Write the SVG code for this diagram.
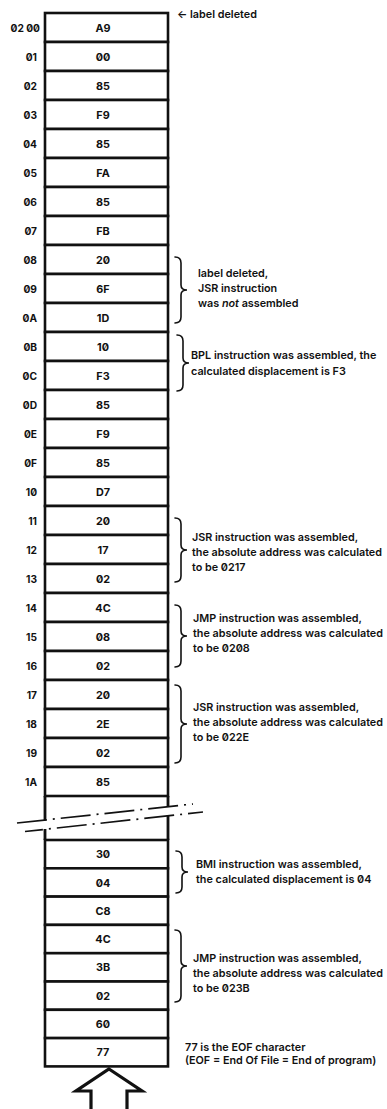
<svg xmlns="http://www.w3.org/2000/svg" width="387" height="1109" viewBox="0 0 387 1109">
<style>
text{font-family:Inter,"Liberation Sans",sans-serif;font-feature-settings:"zero" 1;fill:#111}
.v{font-size:10.8px;font-weight:700;text-anchor:middle}
.a{font-size:10.2px;font-weight:700;text-anchor:end}
.n{font-size:10.8px;font-weight:600}
.cell{fill:#fff;stroke:#111;stroke-width:2.6}
.wall{stroke:#111;stroke-width:2.8;fill:none}
.brace{fill:none;stroke:#111;stroke-width:1.6;stroke-linecap:round}
.brk{fill:none;stroke:#111;stroke-width:1.7;stroke-dasharray:30 6 2 6}
</style>
<g id="cells">
<g id="c00"><rect class="cell" x="45" y="13" width="123" height="29"/><text class="a" x="40" y="31.5">02 00</text><text class="v" x="103" y="31.5">A9</text></g>
<g id="c01"><rect class="cell" x="45" y="42" width="123" height="29"/><text class="a" x="37" y="60.5">01</text><text class="v" x="103" y="60.5">00</text></g>
<g id="c02"><rect class="cell" x="45" y="71" width="123" height="29"/><text class="a" x="37" y="89.5">02</text><text class="v" x="103" y="89.5">85</text></g>
<g id="c03"><rect class="cell" x="45" y="100" width="123" height="29"/><text class="a" x="37" y="118.5">03</text><text class="v" x="103" y="118.5">F9</text></g>
<g id="c04"><rect class="cell" x="45" y="129" width="123" height="29"/><text class="a" x="37" y="147.5">04</text><text class="v" x="103" y="147.5">85</text></g>
<g id="c05"><rect class="cell" x="45" y="158" width="123" height="29"/><text class="a" x="37" y="176.5">05</text><text class="v" x="103" y="176.5">FA</text></g>
<g id="c06"><rect class="cell" x="45" y="187" width="123" height="29"/><text class="a" x="37" y="205.5">06</text><text class="v" x="103" y="205.5">85</text></g>
<g id="c07"><rect class="cell" x="45" y="216" width="123" height="29"/><text class="a" x="37" y="234.5">07</text><text class="v" x="103" y="234.5">FB</text></g>
<g id="c08"><rect class="cell" x="45" y="245" width="123" height="29"/><text class="a" x="37" y="263.5">08</text><text class="v" x="103" y="263.5">20</text></g>
<g id="c09"><rect class="cell" x="45" y="274" width="123" height="29"/><text class="a" x="37" y="292.5">09</text><text class="v" x="103" y="292.5">6F</text></g>
<g id="c0A"><rect class="cell" x="45" y="303" width="123" height="29"/><text class="a" x="37" y="321.5">0A</text><text class="v" x="103" y="321.5">1D</text></g>
<g id="c0B"><rect class="cell" x="45" y="332" width="123" height="29"/><text class="a" x="37" y="350.5">0B</text><text class="v" x="103" y="350.5">10</text></g>
<g id="c0C"><rect class="cell" x="45" y="361" width="123" height="29"/><text class="a" x="37" y="379.5">0C</text><text class="v" x="103" y="379.5">F3</text></g>
<g id="c0D"><rect class="cell" x="45" y="390" width="123" height="29"/><text class="a" x="37" y="408.5">0D</text><text class="v" x="103" y="408.5">85</text></g>
<g id="c0E"><rect class="cell" x="45" y="419" width="123" height="29"/><text class="a" x="37" y="437.5">0E</text><text class="v" x="103" y="437.5">F9</text></g>
<g id="c0F"><rect class="cell" x="45" y="448" width="123" height="29"/><text class="a" x="37" y="466.5">0F</text><text class="v" x="103" y="466.5">85</text></g>
<g id="c10"><rect class="cell" x="45" y="477" width="123" height="29"/><text class="a" x="37" y="495.5">10</text><text class="v" x="103" y="495.5">D7</text></g>
<g id="c11"><rect class="cell" x="45" y="506" width="123" height="29"/><text class="a" x="37" y="524.5">11</text><text class="v" x="103" y="524.5">20</text></g>
<g id="c12"><rect class="cell" x="45" y="535" width="123" height="29"/><text class="a" x="37" y="553.5">12</text><text class="v" x="103" y="553.5">17</text></g>
<g id="c13"><rect class="cell" x="45" y="564" width="123" height="29"/><text class="a" x="37" y="582.5">13</text><text class="v" x="103" y="582.5">02</text></g>
<g id="c14"><rect class="cell" x="45" y="593" width="123" height="29"/><text class="a" x="37" y="611.5">14</text><text class="v" x="103" y="611.5">4C</text></g>
<g id="c15"><rect class="cell" x="45" y="622" width="123" height="29"/><text class="a" x="37" y="640.5">15</text><text class="v" x="103" y="640.5">08</text></g>
<g id="c16"><rect class="cell" x="45" y="651" width="123" height="29"/><text class="a" x="37" y="669.5">16</text><text class="v" x="103" y="669.5">02</text></g>
<g id="c17"><rect class="cell" x="45" y="680" width="123" height="29"/><text class="a" x="37" y="698.5">17</text><text class="v" x="103" y="698.5">20</text></g>
<g id="c18"><rect class="cell" x="45" y="709" width="123" height="29"/><text class="a" x="37" y="727.5">18</text><text class="v" x="103" y="727.5">2E</text></g>
<g id="c19"><rect class="cell" x="45" y="738" width="123" height="29"/><text class="a" x="37" y="756.5">19</text><text class="v" x="103" y="756.5">02</text></g>
<g id="c1A"><rect class="cell" x="45" y="767" width="123" height="29"/><text class="a" x="37" y="785.5">1A</text><text class="v" x="103" y="785.5">85</text></g>
<g id="cbreak">
<path class="wall" d="M45,796 V820.5 M45,829 V840 M168,796 V807 M168,815.5 V840"/>
<path class="brk" d="M17,823 L193,804"/>
<path class="brk" d="M25,831.5 L203,812" style="stroke-dashoffset:12"/>
</g>
<g id="d0"><rect class="cell" x="45" y="840" width="123" height="28.3"/><text class="v" x="103" y="858.2">30</text></g>
<g id="d1"><rect class="cell" x="45" y="868.3" width="123" height="28.3"/><text class="v" x="103" y="886.5">04</text></g>
<g id="d2"><rect class="cell" x="45" y="896.6" width="123" height="28.3"/><text class="v" x="103" y="914.8">C8</text></g>
<g id="d3"><rect class="cell" x="45" y="924.9" width="123" height="28.3"/><text class="v" x="103" y="943.1">4C</text></g>
<g id="d4"><rect class="cell" x="45" y="953.2" width="123" height="28.3"/><text class="v" x="103" y="971.4">3B</text></g>
<g id="d5"><rect class="cell" x="45" y="981.5" width="123" height="28.3"/><text class="v" x="103" y="999.7">02</text></g>
<g id="d6"><rect class="cell" x="45" y="1009.8" width="123" height="28.3"/><text class="v" x="103" y="1028">60</text></g>
<g id="d7"><rect class="cell" x="45" y="1038.1" width="123" height="28.3"/><text class="v" x="103" y="1056.3">77</text></g>
</g>
<g id="connectors">
<path class="brace" d="M175,257 Q181,257 181,263 V285 Q181,290 187,290 Q181,290 181,295 V317 Q181,323 175,323"/>
<path class="brace" d="M177,335 Q183,335 183,341 V358 Q183,363 189,363 Q183,363 183,368 V385 Q183,391 177,391"/>
<path class="brace" d="M175,518 Q181,518 181,524 V545 Q181,550 187,550 Q181,550 181,555 V576 Q181,582 175,582"/>
<path class="brace" d="M175,605 Q181,605 181,611 V631 Q181,636 187,636 Q181,636 181,641 V661 Q181,667 175,667"/>
<path class="brace" d="M175,685 Q181,685 181,691 V719 Q181,724 187,724 Q181,724 181,729 V757 Q181,763 175,763"/>
<path class="brace" d="M176,851 Q182,851 182,857 V867 Q182,872 188,872 Q182,872 182,877 V887 Q182,893 176,893"/>
<path class="brace" d="M175,930 Q181,930 181,936 V961 Q181,966 187,966 Q181,966 181,971 V996 Q181,1002 175,1002"/>
<path d="M109,1069 L142,1091 L127,1091 L127,1112 L91,1112 L91,1091 L76,1091 Z" fill="#fff" stroke="#111" stroke-width="3.2" stroke-linejoin="miter"/>
</g>
<g id="notes">
<text class="n" x="177" y="18">← label deleted</text>
<text class="n" x="198" y="277">label deleted,</text>
<text class="n" x="198" y="292">JSR instruction</text>
<text class="n" x="198" y="307">was <tspan font-style="italic">not</tspan> assembled</text>
<text class="n" x="191" y="359">BPL instruction was assembled, the</text>
<text class="n" x="191" y="375">calculated displacement is F3</text>
<text class="n" x="192" y="541">JSR instruction was assembled,</text>
<text class="n" x="192" y="556">the absolute address was calculated</text>
<text class="n" x="192" y="571">to be 0217</text>
<text class="n" x="193" y="622">JMP instruction was assembled,</text>
<text class="n" x="193" y="637">the absolute address was calculated</text>
<text class="n" x="193" y="652">to be 0208</text>
<text class="n" x="193" y="711">JSR instruction was assembled,</text>
<text class="n" x="193" y="726">the absolute address was calculated</text>
<text class="n" x="193" y="741">to be 022E</text>
<text class="n" x="196" y="868">BMI  instruction was assembled,</text>
<text class="n" x="196" y="883">the calculated displacement is 04</text>
<text class="n" x="193" y="962">JMP instruction was assembled,</text>
<text class="n" x="193" y="977">the absolute address was calculated</text>
<text class="n" x="193" y="992">to be 023B</text>
<text class="n" x="185" y="1051">77 is the EOF character</text>
<text class="n" x="185" y="1064">(EOF = End Of File = End of program)</text>
</g>
</svg>
